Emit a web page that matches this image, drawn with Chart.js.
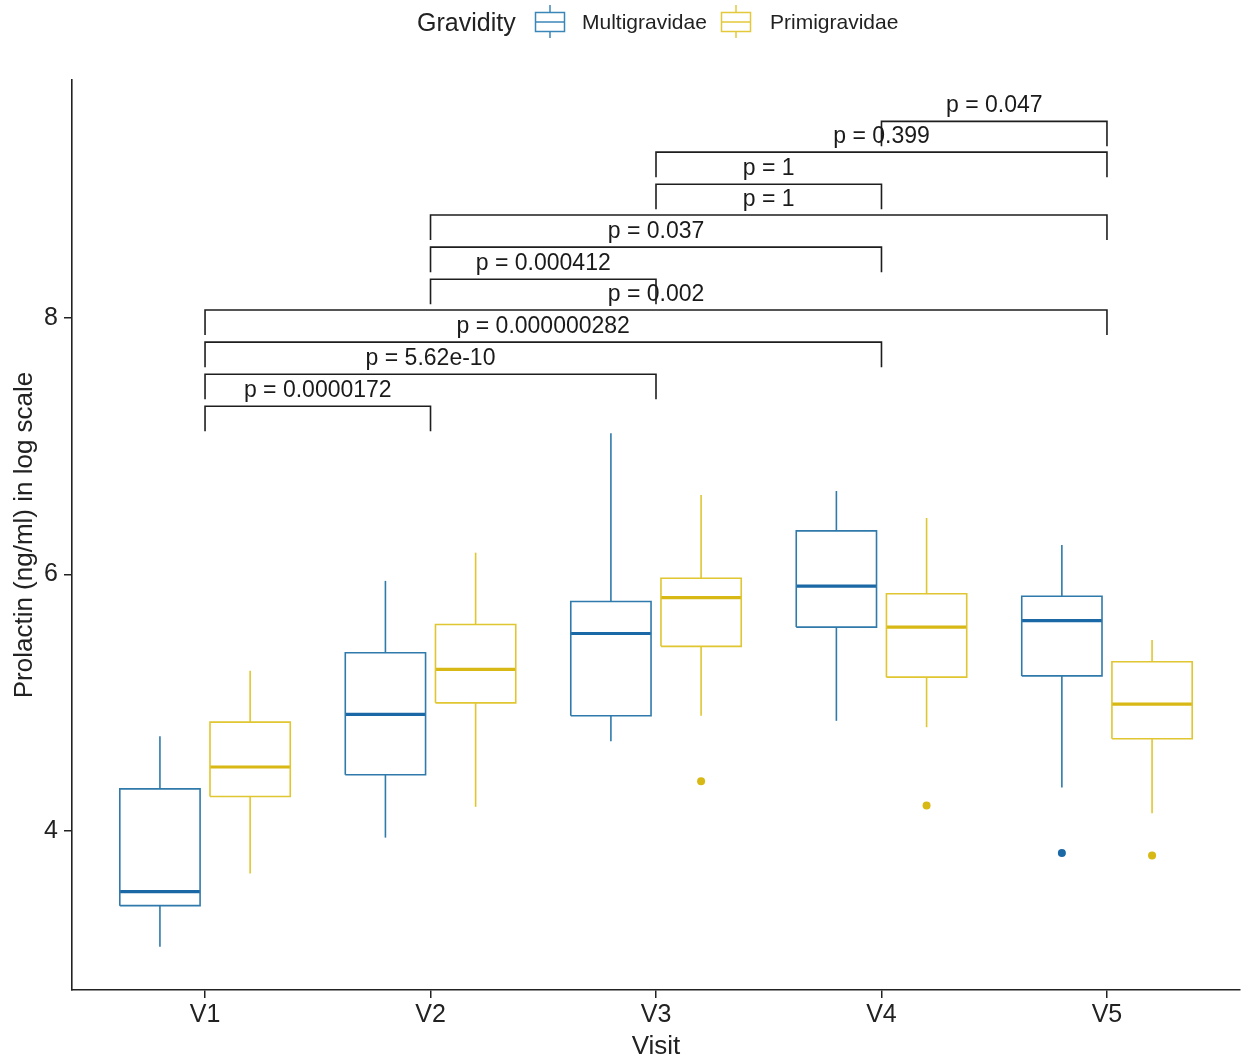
<!DOCTYPE html>
<html>
<head>
<meta charset="utf-8">
<script src="https://cdn.jsdelivr.net/npm/chart.js@4.4.0/dist/chart.umd.min.js"></script>
<style>
  body { margin: 0; background: #fff; font-family: "Liberation Sans", Arial, sans-serif; }
  #wrap { position: relative; width: 1248px; height: 1061px; }
  #chart { position: absolute; left: 0; top: 0; }
  .lg { position: absolute; top: 4px; height: 36px; line-height: 36px; color: #222; white-space: nowrap; }
  .lg-title { font-size: 25px; }
  .lg-text { font-size: 21px; }
  .lg-key { position: absolute; top: 0; }
</style>
</head>
<body>
<div id="wrap">
  <canvas id="chart" width="1248" height="1061"></canvas>
  <span class="lg lg-title" style="left:417px">Gravidity</span>
  <svg class="lg-key" style="left:534px" width="34" height="44">
    <line x1="16" y1="5" x2="16" y2="12.5" stroke="#3b86b8" stroke-width="1.5"/>
    <rect x="1.5" y="12.5" width="29" height="19" fill="none" stroke="#3b86b8" stroke-width="1.5"/>
    <line x1="1.5" y1="22" x2="30.5" y2="22" stroke="#3b86b8" stroke-width="1.5"/>
    <line x1="16" y1="31.5" x2="16" y2="38" stroke="#3b86b8" stroke-width="1.5"/>
  </svg>
  <span class="lg lg-text" style="left:582px">Multigravidae</span>
  <svg class="lg-key" style="left:720px" width="34" height="44">
    <line x1="16" y1="5" x2="16" y2="12.5" stroke="#e3c83a" stroke-width="1.5"/>
    <rect x="1.5" y="12.5" width="29" height="19" fill="none" stroke="#e3c83a" stroke-width="1.5"/>
    <line x1="1.5" y1="22" x2="30.5" y2="22" stroke="#e3c83a" stroke-width="1.5"/>
    <line x1="16" y1="31.5" x2="16" y2="38" stroke="#e3c83a" stroke-width="1.5"/>
  </svg>
  <span class="lg lg-text" style="left:770px">Primigravidae</span>
</div>
<script>
// categories and ticks
const visits = ["V1", "V2", "V3", "V4", "V5"];
const yTicks = [4, 6, 8];

// Multigravidae box stats (log prolactin)
const multiLow    = [3.10, 3.95, 4.70, 4.86, 4.34];
const multiQ1     = [3.42, 4.44, 4.90, 5.59, 5.21];
const multiMedian = [3.53, 4.91, 5.54, 5.91, 5.64];
const multiQ3     = [4.33, 5.39, 5.79, 6.34, 5.83];
const multiHigh   = [4.74, 5.95, 7.10, 6.65, 6.23];
const multiOutliers = [[], [], [], [], [3.83]];

// Primigravidae box stats
const primiLow    = [3.67, 4.19, 4.90, 4.81, 4.14];
const primiQ1     = [4.27, 5.00, 5.44, 5.20, 4.72];
const primiMedian = [4.50, 5.26, 5.82, 5.59, 4.99];
const primiQ3     = [4.85, 5.61, 5.97, 5.85, 5.32];
const primiHigh   = [5.25, 6.17, 6.62, 6.44, 5.49];
const primiOutliers = [[], [], [4.39], [4.20], [3.81]];

// pairwise comparisons (visit numbers), p labels, bracket heights
const compPairs = [[1, 2], [1, 3], [1, 4], [1, 5], [2, 3], [2, 4], [2, 5], [3, 4], [3, 5], [4, 5]];
const pLabels = ["p = 0.0000172", "p = 5.62e-10", "p = 0.000000282", "p = 0.002", "p = 0.000412",
                 "p = 0.037", "p = 1", "p = 1", "p = 0.399", "p = 0.047"];
const bracketY = [7.31, 7.56, 7.81, 8.06, 8.30, 8.55, 8.80, 9.04, 9.29, 9.53];

const FONT = '"Liberation Sans", Arial, sans-serif';
const dodge = 0.2;
const halfW = 0.178;
const tipLen = 0.195;

function lineSet(points, color, width) {
    return {
        data: points,
        showLine: true,
        borderColor: color,
        borderWidth: width,
        pointRadius: 0,
        fill: false,
        tension: 0
    };
}

function boxSets(low, q1, med, q3, high, outliers, offset, color, medColor) {
    let sets = [];
    visits.forEach((v, i) => {
        const x = i + 1 + offset;
        sets.push(lineSet([{x: x, y: q3[i]}, {x: x, y: high[i]}], color, 1.6));
        sets.push(lineSet([{x: x, y: low[i]}, {x: x, y: q1[i]}], color, 1.6));
        sets.push(lineSet([
            {x: x - halfW, y: q1[i]}, {x: x + halfW, y: q1[i]},
            {x: x + halfW, y: q3[i]}, {x: x - halfW, y: q3[i]},
            {x: x - halfW, y: q1[i]}
        ], color, 1.6));
        sets.push(lineSet([{x: x - halfW, y: med[i]}, {x: x + halfW, y: med[i]}], medColor, 3.2));
    });
    let pts = [];
    outliers.forEach((list, i) => {
        list.forEach(val => pts.push({x: i + 1 + offset, y: val}));
    });
    sets.push({
        data: pts,
        pointRadius: 4,
        pointBackgroundColor: medColor,
        pointBorderWidth: 0,
        showLine: false
    });
    return sets;
}

let datasets = []
    .concat(boxSets(multiLow, multiQ1, multiMedian, multiQ3, multiHigh, multiOutliers, -dodge, '#2f7aab', '#1a68a6'))
    .concat(boxSets(primiLow, primiQ1, primiMedian, primiQ3, primiHigh, primiOutliers, dodge, '#e0c630', '#d8b814'));

compPairs.forEach((pair, k) => {
    const yb = bracketY[k];
    datasets.push(lineSet([
        {x: pair[0], y: yb - tipLen}, {x: pair[0], y: yb},
        {x: pair[1], y: yb}, {x: pair[1], y: yb - tipLen}
    ], '#1e1e1e', 1.6));
});

// p value text above each bracket
const pLabelPlugin = {
    id: 'pLabels',
    afterDatasetsDraw(chart) {
        const {ctx, scales: {x, y}} = chart;
        ctx.save();
        ctx.font = '23px ' + FONT;
        ctx.fillStyle = '#1a1a1a';
        ctx.textAlign = 'center';
        ctx.textBaseline = 'alphabetic';
        compPairs.forEach((pair, k) => {
            const xm = x.getPixelForValue((pair[0] + pair[1]) / 2);
            ctx.fillText(pLabels[k], xm, y.getPixelForValue(bracketY[k]) - 9);
        });
        ctx.restore();
    }
};

new Chart(document.getElementById('chart'), {
    type: 'scatter',
    data: { datasets: datasets },
    options: {
        responsive: false,
        animation: false,
        events: [],
        layout: { padding: { top: 80, right: 8, left: 0, bottom: 0 } },
        plugins: {
            legend: { display: false },
            tooltip: { enabled: false }
        },
        scales: {
            x: {
                type: 'linear',
                min: 0.41,
                max: 5.59,
                afterBuildTicks: s => { s.ticks = visits.map((v, i) => ({ value: i + 1 })); },
                afterFit: s => { s.height = 71; },
                ticks: {
                    callback: val => visits[val - 1],
                    font: { family: FONT, size: 25 },
                    color: '#222',
                    padding: 2,
                    maxRotation: 0
                },
                grid: { display: true, drawOnChartArea: false, tickLength: 8, color: '#222', lineWidth: 1.5 },
                border: { display: true, color: '#222', width: 1.6 },
                title: {
                    display: true,
                    text: 'Visit',
                    font: { family: FONT, size: 26, lineHeight: 1.1 },
                    color: '#222',
                    padding: 0
                }
            },
            y: {
                type: 'linear',
                min: 2.763,
                max: 9.852,
                afterBuildTicks: s => { s.ticks = yTicks.map(v => ({ value: v })); },
                afterFit: s => { s.width = 72; },
                ticks: {
                    font: { family: FONT, size: 25 },
                    color: '#222',
                    padding: 6
                },
                grid: { display: true, drawOnChartArea: false, tickLength: 8, color: '#222', lineWidth: 1.5 },
                border: { display: true, color: '#222', width: 1.6 },
                title: {
                    display: true,
                    text: 'Prolactin (ng/ml) in log scale',
                    font: { family: FONT, size: 26, lineHeight: 1.1 },
                    color: '#222',
                    padding: { top: 11, bottom: 0 }
                }
            }
        }
    },
    plugins: [pLabelPlugin]
});
</script>
</body>
</html>
